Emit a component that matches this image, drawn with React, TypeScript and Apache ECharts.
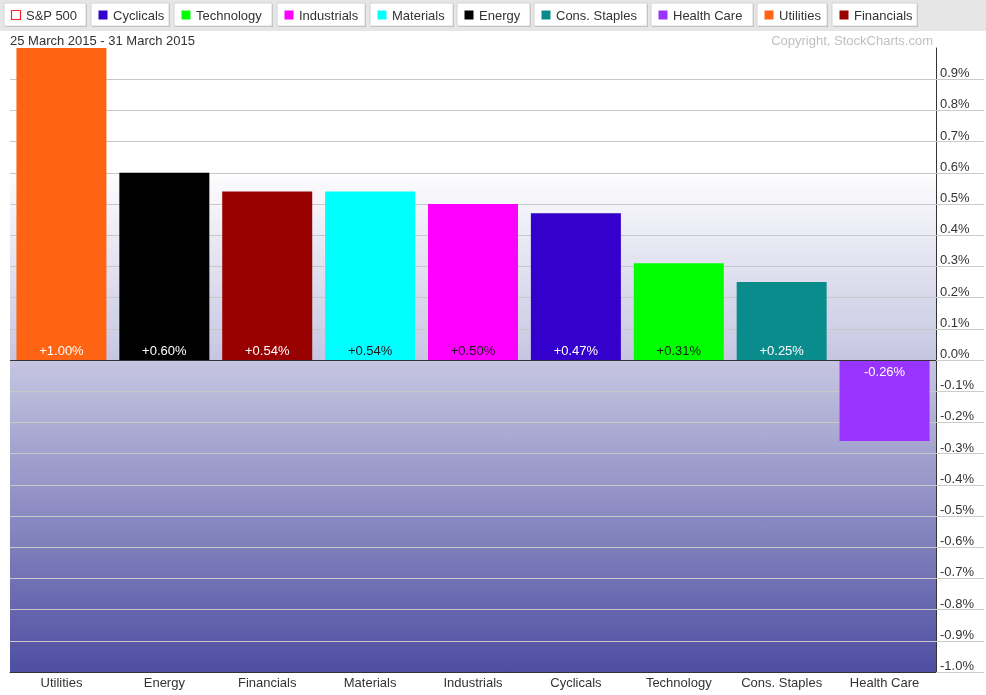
import React, { useEffect, useRef } from "react";
import * as echarts from "echarts";

const categories = ["Utilities", "Energy", "Financials", "Materials", "Industrials", "Cyclicals", "Technology", "Cons. Staples", "Health Care"];
const values = [1.0, 0.6, 0.54, 0.54, 0.5, 0.47, 0.31, 0.25, -0.26];
const barColors = ["#ff6314", "#000000", "#990000", "#00ffff", "#ff00ff", "#3300cc", "#00ff00", "#0a8c8c", "#9933ff"];
const labelColors = ["#ffffff", "#ffffff", "#ffffff", "#1a1a1a", "#1a1a1a", "#ffffff", "#1a1a1a", "#ffffff", "#ffffff"];

const legendNames = ["S&P 500", "Cyclicals", "Technology", "Industrials", "Materials", "Energy", "Cons. Staples", "Health Care", "Utilities", "Financials"];
const legendColors = ["none", "#3300cc", "#00ff00", "#ff00ff", "#00ffff", "#000000", "#0a8c8c", "#9933ff", "#ff6314", "#990000"];

const dateRange = "25 March 2015 - 31 March 2015";
const copyright = "Copyright, StockCharts.com";

const yMin = -1.0;
const yMax = 1.0;
const yStep = 0.1;
const tickValues = [-1.0, -0.9, -0.8, -0.7, -0.6, -0.5, -0.4, -0.3, -0.2, -0.1, 0.0, 0.1, 0.2, 0.3, 0.4, 0.5, 0.6, 0.7, 0.8, 0.9];

// button boxes for the top legend strip (layout, not data)
const legendBoxes = [
  [4, 82], [91, 78], [174, 98], [277, 88], [370, 83], [457, 73], [534, 113], [651, 102], [757, 70], [832, 85],
];

const FONT = "'Liberation Sans', Arial, sans-serif";

export default function App() {
  const ref = useRef<HTMLDivElement>(null);
  useEffect(() => {
    if (!ref.current) return;
    const chart = echarts.init(ref.current, null, { renderer: "svg" });

    const graphics: any[] = [
      { type: "rect", left: 0, top: 0, z: 10, shape: { width: 986, height: 31 }, style: { fill: "#e6e6e6" } },
    ];
    legendNames.forEach((name, i) => {
      const [x, w] = legendBoxes[i];
      graphics.push({
        type: "rect", z: 11, shape: { x: x + 1, y: 4, width: w, height: 23 },
        style: { fill: "#b8b8b8" },
      });
      graphics.push({
        type: "rect", z: 12, shape: { x, y: 3, width: w, height: 23 },
        style: { fill: "#ffffff", stroke: "#d4d4d4", lineWidth: 1 },
      });
      const isOutline = legendColors[i] === "none";
      graphics.push({
        type: "rect", z: 13, shape: { x: x + 7.5, y: 10.5, width: 9, height: 9 },
        style: isOutline ? { fill: "#ffffff", stroke: "#ff2020", lineWidth: 1.2 } : { fill: legendColors[i] },
      });
      graphics.push({
        type: "text", z: 13, x: x + 22, y: 15,
        style: { text: name, fill: "#333333", font: `13px ${FONT}`, verticalAlign: "middle", align: "left" },
      });
    });
    graphics.push({
      type: "text", z: 13, x: 10, y: 40,
      style: { text: dateRange, fill: "#333333", font: `13px ${FONT}`, verticalAlign: "middle", align: "left" },
    });
    graphics.push({
      type: "text", z: 13, x: 933, y: 40,
      style: { text: copyright, fill: "#c0c0c0", font: `13px ${FONT}`, verticalAlign: "middle", align: "right" },
    });

    chart.setOption({
      animation: false,
      textStyle: { fontFamily: FONT },
      grid: {
        left: 10, right: 50, top: 48, bottom: 23, show: true, borderWidth: 0,
        backgroundColor: new echarts.graphic.LinearGradient(0, 0, 0, 1, [
          { offset: 0, color: "#ffffff" },
          { offset: 0.19, color: "#ffffff" },
          { offset: 0.5, color: "#c6c6e2" },
          { offset: 1, color: "#4e4ea2" },
        ]),
      },
      xAxis: {
        type: "category",
        data: categories,
        axisLine: { show: true, onZero: false, lineStyle: { color: "#333333", width: 1 } },
        axisTick: { show: false },
        axisLabel: { color: "#333333", fontSize: 13, fontFamily: FONT, margin: 4, interval: 0 },
        splitLine: { show: false },
      },
      yAxis: {
        type: "value",
        position: "right",
        min: yMin,
        max: yMax,
        interval: yStep,
        axisLine: { show: true, lineStyle: { color: "#333333", width: 1 } },
        axisTick: { show: true, length: 48, customValues: tickValues, lineStyle: { color: "#cccccc", width: 1 } },
        axisLabel: {
          color: "#333333", fontSize: 13, fontFamily: FONT, margin: 4, verticalAlign: "bottom",
          customValues: tickValues,
          formatter: (v: number) => `${v.toFixed(1)}%`,
        },
        splitLine: { show: true, lineStyle: { color: "#c8c8c8", width: 1 } },
      },
      graphic: graphics,
      series: [
        {
          type: "bar",
          barWidth: 90,
          data: values.map((v, i) => ({
            value: v,
            itemStyle: { color: barColors[i] },
            label: {
              show: true,
              position: v >= 0 ? "insideBottom" : "insideTop",
              distance: v >= 0 ? 3 : 5,
              color: labelColors[i],
              fontSize: 13,
              fontFamily: FONT,
              formatter: () => `${v >= 0 ? "+" : ""}${v.toFixed(2)}%`,
            },
          })),
          markLine: {
            silent: true,
            symbol: "none",
            label: { show: false },
            lineStyle: { color: "#333333", width: 1, type: "solid" },
            data: [{ yAxis: 0 }],
          },
        },
      ],
    });
    return () => chart.dispose();
  }, []);
  return <div ref={ref} style={{ position: "fixed", left: 0, top: 0, width: 986, height: 695 }} />;
}
